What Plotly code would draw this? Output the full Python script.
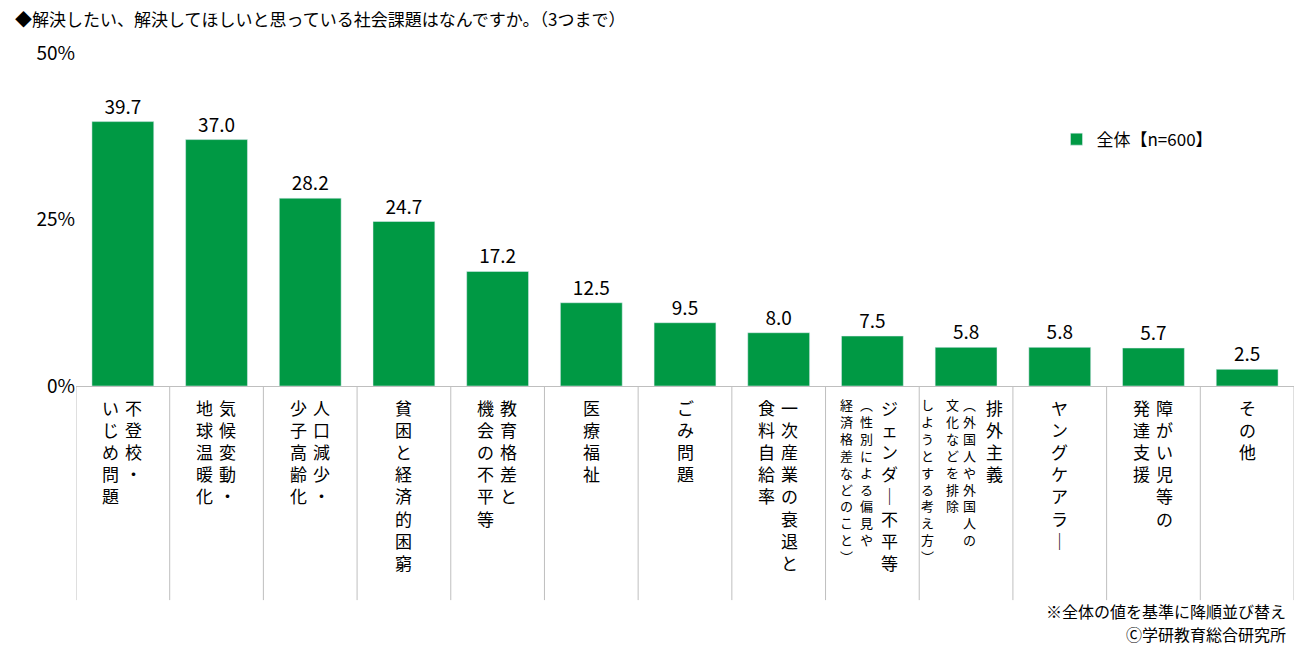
import plotly.graph_objects as go

labels = [
    ["不登校・", "いじめ問題"],
    ["気候変動・", "地球温暖化"],
    ["人口減少・", "少子高齢化"],
    ["貧困と経済的困窮"],
    ["教育格差と", "機会の不平等"],
    ["医療福祉"],
    ["ごみ問題"],
    ["一次産業の衰退と", "食料自給率"],
    ["ジェンダー不平等", "（性別による偏見や", "経済格差などのこと）"],
    ["排外主義", "（外国人や外国人の", "文化などを排除", "しようとする考え方）"],
    ["ヤングケアラー"],
    ["障がい児等の", "発達支援"],
    ["その他"],
]
values = [39.7, 37.0, 28.2, 24.7, 17.2, 12.5, 9.5, 8.0, 7.5, 5.8, 5.8, 5.7, 2.5]
series_name = "全体【n=600】"
ytick_vals = [0, 25, 50]
ytick_text = ["0%", "25%", "50%"]

FONT = "Noto Sans CJK JP"
GREEN = "#009944"
x = list(range(len(values)))

fig = go.Figure(go.Bar(
    x=x, y=values, name=series_name, marker_color=GREEN, width=0.66,
    text=[f"{v:.1f}" for v in values], textposition="outside",
    textfont=dict(size=19, color="#000", family=FONT), cliponaxis=False,
))

def vert(s):
    s = s.replace("（", "︵").replace("）", "︶").replace("ー", "｜")
    return "<br>".join(s)

ann = []
shapes = []
for i, cols in enumerate(labels):
    n = len(cols)
    if n == 1:
        offs = [0]
    elif n == 2:
        offs = [11, -12]
    elif n == 3:
        offs = [17, -6, -26]
    else:
        offs = [28, 3, -14, -39]
    for j, c in enumerate(cols):
        small = n >= 3 and j > 0
        ann.append(dict(
            x=i, xref="x", y=-0.02, yref="paper", yanchor="top", xanchor="center",
            xshift=offs[j], text=vert(c), showarrow=False, align="center",
            font=dict(size=13 if small else 17, color="#000", family=FONT),
        ))
for i in range(len(values) + 1):
    shapes.append(dict(type="line", xref="x", yref="paper", x0=i - 0.5, x1=i - 0.5,
                       y0=0, y1=-0.643, line=dict(color="#bfbfbf", width=1)))

ann += [
    dict(xref="paper", yref="paper", x=-0.052, y=1.105, xanchor="left", yanchor="middle",
         text="◆解決したい、解決してほしいと思っている社会課題はなんですか。（3つまで）",
         showarrow=False, font=dict(size=17, color="#000", family=FONT)),
    dict(xref="paper", yref="paper", x=0.995, y=-0.675, xanchor="right", yanchor="middle",
         text="※全体の値を基準に降順並び替え", showarrow=False,
         font=dict(size=16, color="#000", family=FONT)),
    dict(xref="paper", yref="paper", x=0.995, y=-0.745, xanchor="right", yanchor="middle",
         text="Ⓒ学研教育総合研究所", showarrow=False,
         font=dict(size=16, color="#000", family=FONT)),
]

fig.update_layout(
    width=1302, height=653, margin=dict(l=68, r=16, t=45, b=275),
    plot_bgcolor="white", paper_bgcolor="white",
    font=dict(family=FONT, color="#000"),
    showlegend=True,
    legend=dict(x=0.805, y=0.74, xanchor="left", yanchor="middle",
                font=dict(size=17, family=FONT), bgcolor="rgba(0,0,0,0)"),
    xaxis=dict(range=[-0.5, len(values) - 0.5], showticklabels=False, showgrid=False,
               showline=True, linecolor="#bfbfbf", zeroline=False),
    yaxis=dict(range=[0, 50], tickvals=ytick_vals, ticktext=ytick_text, showgrid=False,
               zeroline=False, showline=False, tickfont=dict(size=19, family=FONT)),
    annotations=ann, shapes=shapes,
)
fig.write_html("out.html")
